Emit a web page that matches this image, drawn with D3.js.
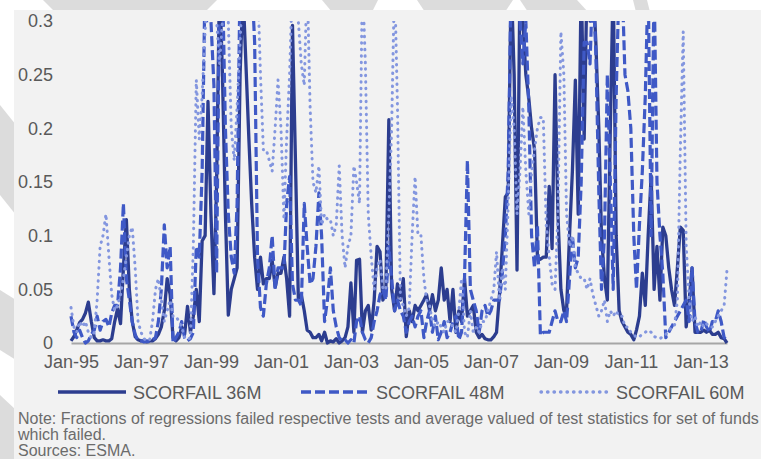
<!DOCTYPE html>
<html>
<head>
<meta charset="utf-8">
<script src="https://cdnjs.cloudflare.com/ajax/libs/d3/7.8.5/d3.min.js"></script>
<style>
    body { margin: 0; background: #fff; }
    svg { display: block; font-family: "Liberation Sans", Arial, sans-serif; }
</style>
</head>
<body>
<div id="chart"></div>
<script>

//--- Daten ------------------------------------------------------------------------------------------------ //

var firstMonth = new Date(1995, 0, 1);

var tickLabels = ["Jan-95", "Jan-97", "Jan-99", "Jan-01", "Jan-03", "Jan-05", "Jan-07", "Jan-09", "Jan-11", "Jan-13"];
var yTicks = [0, 0.05, 0.1, 0.15, 0.2, 0.25, 0.3];
var yTickLabels = ["0", "0.05", "0.1", "0.15", "0.2", "0.25", "0.3"];
var seriesNames = ["SCORFAIL 36M", "SCORFAIL 48M", "SCORFAIL 60M"];

// monthly values, Jan-95 .. Oct-13
var scorfail36 = [
    .002,.006,.012,.019,.022,.028,.038,.02,.005,.002,.002,.003,
    .002,.002,.004,.02,.032,.018,.07,.115,.05,.02,.006,.003,
    .002,.002,.001,.002,.002,.004,.008,.015,.03,.06,.045,.005,
    .002,.005,.015,.008,.034,.01,.025,.05,.02,.095,.1,.225,
    .12,.046,.15,.34,.25,.12,.026,.05,.06,.07,.25,.33,
    .26,.19,.13,.08,.05,.08,.055,.06,.06,.077,.052,.065,
    .065,.08,.06,.025,.296,.17,.042,.045,.03,.012,.01,.005,
    .005,.008,.002,.01,.0,.002,.001,.004,.0,.002,.005,.015,
    .056,.01,.077,.078,.01,.03,.035,.012,.04,.09,.085,.04,
    .05,.208,.05,.03,.055,.04,.06,.006,.03,.02,.035,.03,
    .035,.04,.045,.03,.045,.03,.04,.07,.04,.05,.02,.05,
    .01,.03,.02,.06,.025,.03,.035,.01,.005,.008,.004,.003,
    .003,.006,.01,.045,.09,.136,.14,.34,.25,.068,.34,.3,
    .25,.228,.2,.18,.08,.078,.08,.08,.146,.088,.25,.12,
    .05,.03,.03,.1,.16,.245,.12,.34,.19,.34,.3,.34,
    .28,.2,.1,.06,.04,.2,.34,.1,.03,.02,.015,.01,
    .008,.003,.012,.025,.065,.035,.1,.156,.05,.09,.04,.108,
    .1,.07,.05,.035,.07,.108,.105,.015,.04,.07,.01,.01,
    .01,.012,.01,.012,.008,.008,.01,.005,.004,.0
];

var scorfail48 = [
    .025,.01,.005,.012,.005,.0,.002,.008,.012,.025,.012,.02,
    .022,.015,.028,.035,.035,.07,.13,.06,.04,.02,.008,.002,
    .002,.001,.002,.001,.003,.005,.02,.05,.11,.07,.09,.0,
    .005,.01,.02,.005,.002,.004,.01,.09,.08,.16,.34,.3,
    .3,.24,.065,.34,.34,.2,.12,.08,.065,.13,.34,.34,
    .32,.34,.34,.28,.08,.033,.025,.055,.07,.1,.05,.07,
    .07,.07,.13,.155,.055,.04,.04,.035,.13,.09,.055,.06,
    .09,.14,.1,.02,.04,.07,.03,.015,.005,.002,.003,.0,
    .003,.0,.02,.025,.01,.003,.0,.005,.02,.03,.045,.05,
    .04,.09,.06,.03,.04,.03,.025,.01,.02,.025,.015,.025,
    .03,.005,.02,.03,.01,.025,.003,.01,.02,.005,.01,.02,
    .025,.003,.01,.06,.17,.05,.04,.03,.01,.03,.035,.025,
    .03,.04,.04,.04,.065,.1,.16,.34,.34,.34,.3,.26,
    .3,.22,.1,.07,.11,.007,.01,.01,.01,.02,.03,.02,
    .02,.03,.02,.06,.1,.07,.08,.15,.28,.28,.26,.34,
    .27,.14,.05,.1,.25,.15,.05,.23,.34,.34,.25,.235,
    .2,.1,.05,.11,.16,.23,.34,.1,.34,.15,.1,.065,
    .005,.01,.015,.02,.025,.03,.035,.04,.02,.07,.02,.01,
    .01,.022,.015,.01,.02,.02,.03,.02,.005,.003
];

var scorfail60 = [
    .033,.015,.01,.02,.015,.02,.01,.005,.01,.04,.09,.1,
    .12,.08,.045,.03,.035,.045,.06,.08,.1,.108,.07,.02,
    .01,.004,.002,.003,.02,.05,.06,.04,.02,.03,.04,.025,
    .025,.02,.015,.005,.003,.005,.09,.245,.19,.23,.29,.34,
    .34,.34,.3,.26,.3,.34,.3,.2,.17,.22,.28,.34,
    .34,.34,.34,.34,.34,.25,.18,.18,.17,.16,.2,.245,
    .2,.115,.19,.25,.34,.34,.3,.26,.24,.34,.22,.15,
    .14,.165,.11,.12,.115,.115,.1,.11,.165,.1,.07,.09,
    .1,.165,.15,.13,.34,.26,.12,.08,.05,.07,.078,.05,
    .05,.12,.2,.34,.22,.04,.035,.025,.033,.1,.155,.1,
    .1,.06,.04,.035,.02,.015,.02,.015,.01,.02,.02,.015,
    .01,.03,.06,.01,.005,.03,.01,.015,.01,.02,.02,.03,
    .04,.05,.085,.04,.07,.05,.13,.23,.2,.12,.16,.22,
    .16,.12,.16,.18,.2,.21,.21,.11,.08,.055,.05,.12,
    .29,.25,.12,.09,.1,.07,.065,.06,.06,.05,.06,.045,
    .035,.025,.03,.04,.02,.03,.025,.03,.025,.025,.015,.015,
    .01,.008,.005,.006,.008,.01,.012,.01,.006,.005,.004,.006,
    .008,.012,.014,.016,.04,.18,.29,.09,.04,.02,.025,.015,
    .02,.015,.018,.015,.015,.02,.025,.03,.035,.068
];

var noteLines = [
    "Note: Fractions of regressions failed respective tests and average valued of test statistics for set of funds",
    "which failed.",
    "Sources: ESMA."
];


//--- Chart ------------------------------------------------------------------------------------------------ //

function renderChart() {

    var width = 761,
        height = 459;

    var svg = d3.select('#chart').append('svg')
        .attr('width', width)
        .attr('height', height);

    // Wasserzeichen am Rand
    var mark = svg.append('g').attr('fill', '#dcdcdc');
    mark.append('path').attr('d', 'M43,0 L217,0 L205,12 L55,12 Z');
    mark.append('path').attr('d', 'M322,0 L378,0 L372,12 L332,12 Z');
    mark.append('path').attr('d', 'M417,0 L513,0 L505,12 L425,12 Z');
    mark.append('path').attr('d', 'M520,0 L577,0 L588,12 L528,12 Z');
    mark.append('path').attr('d', 'M633,0 L647,0 L650,12 L636,12 Z');
    mark.append('path').attr('d', 'M0,105 L16,125 L16,215 L0,195 Z');
    mark.append('path').attr('d', 'M0,290 L16,300 L16,360 L0,350 Z');
    mark.append('path').attr('d', 'M0,395 L16,410 L16,459 L0,459 Z');

    svg.append('rect')
        .attr('x', 14).attr('y', 10)
        .attr('width', width - 14).attr('height', height - 10)
        .attr('fill', '#f2f2f2');

    var x = d3.scaleTime()
        .domain([firstMonth, d3.timeMonth.offset(firstMonth, scorfail36.length - 1)])
        .range([71, 727]);

    var y = d3.scaleLinear()
        .domain([0, 0.3])
        .range([343, 21]);

    // Achsen
    var tickDates = tickLabels.map(function (t, i) { return new Date(1995 + 2 * i, 0, 1); });

    var xAxis = svg.append('g')
        .attr('transform', 'translate(0,343)')
        .call(d3.axisBottom(x)
            .tickValues(tickDates)
            .tickFormat(function (d, i) { return tickLabels[i]; })
            .tickSize(0)
            .tickPadding(12));
    xAxis.select('.domain').attr('stroke', '#a6a6a6').attr('stroke-width', 2);
    xAxis.selectAll('text').attr('fill', '#595959').attr('font-size', 18)
        .attr('font-family', '"Liberation Sans", Arial, sans-serif');

    var yAxis = svg.append('g')
        .attr('transform', 'translate(71,0)')
        .call(d3.axisLeft(y)
            .tickValues(yTicks)
            .tickFormat(function (d, i) { return yTickLabels[i]; })
            .tickSize(0)
            .tickPadding(18));
    yAxis.select('.domain').remove();
    yAxis.selectAll('text').attr('fill', '#595959').attr('font-size', 18)
        .attr('font-family', '"Liberation Sans", Arial, sans-serif');

    // Linien
    svg.append('clipPath').attr('id', 'plotclip')
        .append('rect').attr('x', 60).attr('y', 21).attr('width', 680).attr('height', 330);

    var line = d3.line()
        .x(function (d, i) { return x(d3.timeMonth.offset(firstMonth, i)); })
        .y(function (d) { return y(d); });

    var styles = [
        { data: scorfail36, color: '#2c3d8f', width: 3.3, dash: null, cap: 'butt' },
        { data: scorfail48, color: '#3f59c6', width: 3.2, dash: '10,4', cap: 'butt' },
        { data: scorfail60, color: '#8396df', width: 3, dash: '0.5,6', cap: 'round' }
    ];

    var plot = svg.append('g').attr('clip-path', 'url(#plotclip)');

    styles.forEach(function (s) {
        plot.append('path')
            .datum(s.data)
            .attr('fill', 'none')
            .attr('stroke', s.color)
            .attr('stroke-width', s.width)
            .attr('stroke-linejoin', 'round')
            .attr('stroke-linecap', s.cap)
            .attr('stroke-dasharray', s.dash)
            .attr('d', line);
    });

    // Legende
    var legendX = [58, 301, 541];
    var legend = svg.append('g');

    styles.forEach(function (s, i) {
        legend.append('line')
            .attr('x1', legendX[i]).attr('x2', legendX[i] + 68)
            .attr('y1', 392).attr('y2', 392)
            .attr('stroke', s.color)
            .attr('stroke-width', s.width + 0.3)
            .attr('stroke-linecap', s.cap)
            .attr('stroke-dasharray', s.dash);
        legend.append('text')
            .attr('x', legendX[i] + 75).attr('y', 399)
            .attr('fill', '#595959')
            .attr('font-size', 18)
            .text(seriesNames[i]);
    });

    // Fussnote
    svg.append('g').selectAll('text')
        .data(noteLines)
        .enter().append('text')
        .attr('x', 18)
        .attr('y', function (d, i) { return 424 + i * 16; })
        .attr('fill', '#6b6b6b')
        .attr('font-size', 16)
        .text(function (d) { return d; });
}

renderChart();

</script>
</body>
</html>
